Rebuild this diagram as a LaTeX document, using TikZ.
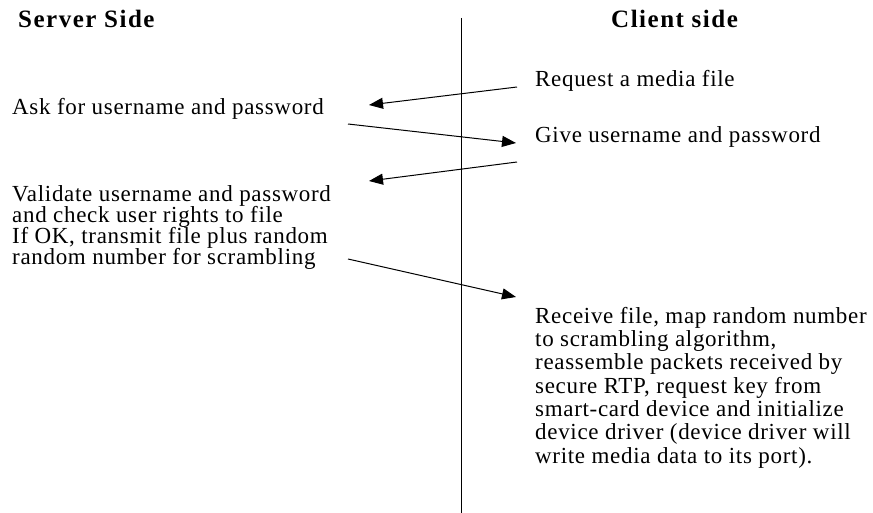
\documentclass[tikz,border=0pt]{standalone}
\usepackage{fontspec}
\setmainfont{Liberation Serif}[LetterSpace=3]
\newfontfamily\headfont{Liberation Serif}[LetterSpace=6]
\usetikzlibrary{arrows.meta}
\begin{document}
\begin{tikzpicture}[x=1pt,y=-1pt]
\tikzstyle{every node}=[inner sep=0pt,anchor=base west];
\tikzstyle{head}=[font=\headfont\bfseries\fontsize{25}{30}\selectfont];
\tikzstyle{txt}=[font=\fontsize{23}{21.3}\selectfont,align=left];
\tikzstyle{msg}=[line width=1pt,-{Triangle[length=14pt,width=11pt]}];
\useasboundingbox (0,0) rectangle (873,513);
\node[head] (server) at (18,28) {Server Side};
\node[head] (client) at (611,28) {Client side};
\node[txt] (request) at (535,87) {Request a media file};
\node[txt] (ask) at (12,115) {Ask for username and password};
\node[txt] (give) at (535,143) {Give username and password};
% base of a block = base of its last line
\node[txt] (validate) at (12,265) {Validate username and password\\
and check user rights to file\\
If OK, transmit file plus random\\
random number for scrambling};
\node[txt,font=\fontsize{23}{23.3}\selectfont] (receive) at (535,463) {Receive file, map random number\\
to scrambling algorithm,\\
reassemble packets received by\\
secure RTP, request key from\\
smart-card device and initialize\\
device driver (device driver will\\
write media data to its port).};
% divider
\coordinate (top) at (461,18);
\coordinate (bot) at (461,513);
\draw[line width=1pt] (top) -- (bot);
% messages
\coordinate (a1s) at (517,87);
\coordinate (a1e) at (369,105);
\coordinate (a2s) at (348,124);
\coordinate (a2e) at (516,143);
\coordinate (a3s) at (517,162);
\coordinate (a3e) at (369,181);
\coordinate (a4s) at (348,259);
\coordinate (a4e) at (516,297);
\draw[msg] (a1s) -- (a1e);
\draw[msg] (a2s) -- (a2e);
\draw[msg] (a3s) -- (a3e);
\draw[msg] (a4s) -- (a4e);
\end{tikzpicture}
\end{document}
